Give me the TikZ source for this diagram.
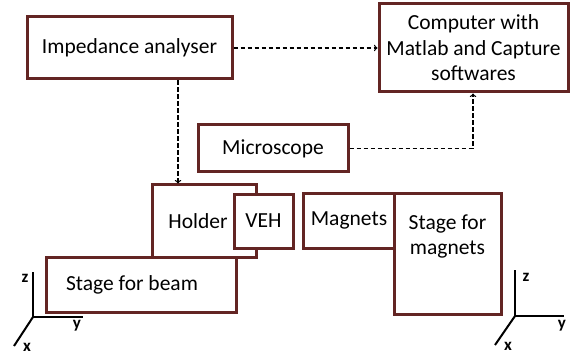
\documentclass[tikz,border=0pt]{standalone}
\usepackage{fontspec}
\setmainfont{Carlito}
\usetikzlibrary{arrows, positioning, calc}
\usepackage{xcolor}
\definecolor{BoxRed}{HTML}{632523}

\tikzset{
  part/.style={draw=BoxRed, line width=3pt, fill=white, rectangle, inner sep=0pt,
    font=\fontsize{21.5}{25.5}\selectfont, align=center},
  link/.style={->, dash pattern=on 4.5pt off 2.5pt, line width=1.3pt, >=to},
  axis/.style={line width=2pt, black},
  axlabel/.style={font=\fontsize{17}{18}\selectfont\bfseries, inner sep=0pt}
}

\begin{document}
\begin{tikzpicture}[x=1pt, y=-1pt]
        \useasboundingbox (0,0) rectangle (575,358);
        % top row
        \node[part, minimum width=205pt, minimum height=62pt] (imp) at (129.5,48) {Impedance analyser};
        \node[part, minimum width=189pt, minimum height=88pt] (pc) at (473.5,48) {Computer with\\Matlab and Capture\\softwares};
        \node[part, minimum width=150pt, minimum height=47pt] (mic) at (273,148.5) {Microscope};
        % beam side
        \node[part, minimum width=104pt, minimum height=72pt] (holder) at (204,221) {Holder\hspace{12pt}};
        \node[part, minimum width=59pt, minimum height=54pt] (veh) at (263.5,221) {VEH};
        \node[part, minimum width=190pt, minimum height=55pt] (beam) at (141,284.5) {\hspace{-18pt}Stage for beam};
        % magnet side
        \node[part, minimum width=92pt, minimum height=55pt] (mag) at (349,220.5) {Magnets};
        \node[part, minimum width=107pt, minimum height=121pt] (smag) at (447.5,253.5) {Stage for\\magnets\\[12pt]};
        % connections
        \draw[link] (imp.east) -- (imp.east -| pc.west);
        \draw[link] (imp.south -| 178,0) -- (holder.north -| 178,0);
        \draw[link] (mic.east) -| (pc.south -| 473,0);
        % axes, left
        \coordinate (oL) at (33,317);
        \draw[axis] (oL) -- (33,272);
        \draw[axis] (oL) -- (83,317);
        \draw[axis] (oL) -- (14,346);
        \node[axlabel] (zL) at (25,278) {z};
        \node[axlabel] (yL) at (77,326) {y};
        \node[axlabel] (xL) at (27,347) {x};
        % axes, right
        \coordinate (oR) at (515,316);
        \draw[axis] (oR) -- (515,270);
        \draw[axis] (oR) -- (564,316);
        \draw[axis] (oR) -- (495,345);
        \node[axlabel] (zR) at (526,277) {z};
        \node[axlabel] (yR) at (562,326) {y};
        \node[axlabel] (xR) at (508,346) {x};
    \end{tikzpicture}
\end{document}
